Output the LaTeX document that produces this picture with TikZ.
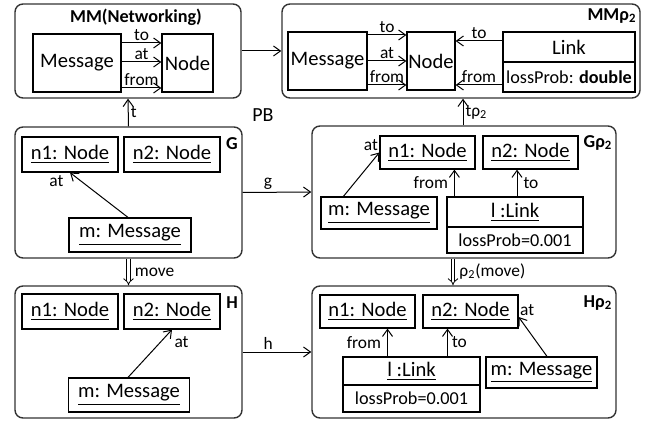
\documentclass[tikz,border=0pt]{standalone}
\usepackage{fontspec}
\setmainfont{Carlito}
\usepackage{tikz}
\usetikzlibrary{arrows.meta}

\tikzset{
  frame/.style={draw=black!80, rounded corners=4pt, line width=0.7pt, inner sep=0pt},
  cls/.style={draw, line width=0.6pt, inner sep=0pt, font=\fontsize{10.3}{12}\selectfont},
  attr/.style={draw, line width=0.6pt, inner sep=0pt, font=\fontsize{9.1}{11}\selectfont},
  lbl/.style={font=\fontsize{8.7}{10}\selectfont, inner sep=1pt},
  ttl/.style={font=\fontsize{9.1}{11}\selectfont\bfseries, inner sep=0pt},
  arr/.style={-{Straight Barb[length=3.5pt,width=5pt]}, line width=0.5pt},
  dbl/.style={double, double distance=1.4pt, line width=0.4pt, -{Implies}}
}

\begin{document}
\begin{tikzpicture}[x=0.5pt, y=-0.5pt]
\useasboundingbox (0,0) rectangle (651,421);

% Type graph MM
\node[frame, minimum width=113pt, minimum height=47pt] (mm) at (128,51) {};
\node[ttl] (mmT) at (136,17) {MM(Networking)};
\node[cls, minimum width=44pt, minimum height=29pt] (mmMsg) at (77,63) {Message};
\node[cls, minimum width=25.5pt, minimum height=29pt] (mmNode) at (187.5,63) {Node};
\draw[arr] ([yshift=10pt]mmMsg.east) -- node[lbl, above] {to} ([yshift=10pt]mmNode.west);
\draw[arr] ([yshift=0.5pt]mmMsg.east) -- node[lbl, above] {at} ([yshift=0.5pt]mmNode.west);
\draw[arr] ([yshift=-12.5pt]mmMsg.east) -- node[lbl, above] {from} ([yshift=-12.5pt]mmNode.west);

% Type graph MM rho2
\node[frame, minimum width=179pt, minimum height=47pt] (mmr) at (461,51) {};
\node[ttl] (mmrT) at (612,16) {MMρ\textsubscript{2}};
\node[cls, minimum width=39.5pt, minimum height=29pt] (mmrMsg) at (327.5,61) {Message};
\node[cls, minimum width=24pt, minimum height=29pt] (mmrNode) at (431,61) {Node};
\node[cls, minimum width=66pt, minimum height=15pt] (mmrLink) at (569,47) {Link};
\node[attr, minimum width=66pt, minimum height=15pt] (mmrLinkA) at (569,77) {lossProb: \textbf{double}};
\draw[arr] ([yshift=13pt]mmrMsg.east) -- node[lbl, above] {to} ([yshift=13pt]mmrNode.west);
\draw[arr] (mmrMsg.east) -- node[lbl, above] {at} (mmrNode.west);
\draw[arr] ([yshift=-12pt]mmrMsg.east) -- node[lbl, above] {from} ([yshift=-12pt]mmrNode.west);
\draw[arr] ([yshift=3pt]mmrLink.west) -- node[lbl, above] {to} ([yshift=3pt]mmrLink.west -| mmrNode.east);
\draw[arr] ([yshift=-4pt]mmrLinkA.west) -- node[lbl, above] {from} ([yshift=-4pt]mmrLinkA.west -| mmrNode.east);

% Graph G
\node[frame, minimum width=113.5pt, minimum height=65.5pt] (g) at (128.5,192.5) {};
\node[ttl] (gT) at (232,144) {G};
\node[cls, minimum width=48pt, minimum height=17.5pt] (gN1) at (70,154.5) {\underline{n1: Node}};
\node[cls, minimum width=48pt, minimum height=17.5pt] (gN2) at (172,154.5) {\underline{n2: Node}};
\node[cls, minimum width=61pt, minimum height=17pt] (gM) at (130,235) {\underline{m: Message}};
\draw[arr] ([xshift=-1pt]gM.north) -- node[lbl, pos=1, below left, xshift=-2pt] {at} (gN1.south);

% Graph G rho2
\node[frame, minimum width=152pt, minimum height=66pt] (gr) at (464,192) {};
\node[ttl] (grT) at (598,143) {Gρ\textsubscript{2}};
\node[cls, minimum width=47.5pt, minimum height=16.5pt] (grN1) at (427.5,152.5) {\underline{n1: Node}};
\node[cls, minimum width=47.5pt, minimum height=16.5pt] (grN2) at (530.5,152.5) {\underline{n2: Node}};
\node[cls, minimum width=58pt, minimum height=16pt] (grM) at (379,213) {\underline{m: Message}};
\node[cls, minimum width=68pt, minimum height=15pt] (grLink) at (515,212) {\underline{l :Link}};
\node[attr, minimum width=68pt, minimum height=13pt] (grLinkA) at (515,240) {lossProb=0.001};
\draw[arr] ([xshift=11.5pt]grM.north west) -- node[lbl, pos=1, above left, inner sep=0.5pt] {at} (grN1.west);
\draw[arr] ([xshift=4pt]grLink.north west) -- node[lbl, left, inner sep=3pt] {from} ([xshift=4pt]grLink.north west |- grN1.south);
\draw[arr] ([xshift=1pt]grLink.north) -- node[lbl, right, inner sep=3pt] {to} ([xshift=1pt]grLink.north |- grN2.south);

% Graph H
\node[frame, minimum width=113.5pt, minimum height=66pt] (h) at (128.5,352) {};
\node[ttl] (hT) at (232,303) {H};
\node[cls, minimum width=48pt, minimum height=17.5pt] (hN1) at (70,311.5) {\underline{n1: Node}};
\node[cls, minimum width=48pt, minimum height=17.5pt] (hN2) at (172,311.5) {\underline{n2: Node}};
\node[cls, minimum width=60.5pt, minimum height=17pt] (hM) at (129,395) {\underline{m: Message}};
\draw[arr] ([xshift=-0.5pt]hM.north) -- node[lbl, pos=1, below right, yshift=-2pt] {at} (hN2.south);

% Graph H rho2
\node[frame, minimum width=152pt, minimum height=66pt] (hr) at (464,352) {};
\node[ttl] (hrT) at (598,303) {Hρ\textsubscript{2}};
\node[cls, minimum width=47.5pt, minimum height=16.5pt] (hrN1) at (367.5,311.5) {\underline{n1: Node}};
\node[cls, minimum width=47.5pt, minimum height=16.5pt] (hrN2) at (470.5,311.5) {\underline{n2: Node}};
\node[cls, minimum width=68.5pt, minimum height=14pt] (hrLink) at (411.5,371) {\underline{l :Link}};
\node[attr, minimum width=68.5pt, minimum height=13.5pt] (hrLinkA) at (411.5,398.5) {lossProb=0.001};
\node[cls, minimum width=55.5pt, minimum height=15.5pt] (hrM) at (541.5,372.5) {\underline{m: Message}};
\draw[arr] ([xshift=-12pt]hrLink.north) -- node[lbl, left, inner sep=3pt] {from} ([xshift=-12pt]hrLink.north |- hrN1.south);
\draw[arr] ([xshift=18pt]hrLink.north) -- node[lbl, right, inner sep=2pt] {to} ([xshift=18pt]hrLink.north |- hrN2.south);
\draw[arr] ([xshift=2.75pt]hrM.north) -- node[lbl, pos=1, above right, inner sep=0.5pt] {at} ([yshift=-2.75pt]hrN2.east);

% Morphisms between the graphs
\draw[arr] (mm.east) -- (mmr.west);
\draw[arr] (g.north) -- node[lbl, right] {t} (mm.south);
\draw[arr] ([xshift=-0.5pt]gr.north) -- node[lbl, right] {tρ\textsubscript{2}} ([xshift=-0.5pt]gr.north |- mmr.south);
\draw[arr] (g.east) -- node[lbl, above, pos=0.37] {g} (gr.west);
\draw[arr] (h.east) -- node[lbl, above, pos=0.37] {h} (hr.west);
\draw[dbl] (g.south) -- node[lbl, right, inner sep=3pt] {move} (h.north);
\draw[dbl] ([xshift=-5.5pt]gr.south) -- node[lbl, right, inner sep=3pt] {ρ\textsubscript{2}(move)} ([xshift=-5.5pt]gr.south |- hr.north);
\node[font=\fontsize{10}{12}\selectfont, inner sep=0pt] (pb) at (263,115) {PB};
\end{tikzpicture}
\end{document}
